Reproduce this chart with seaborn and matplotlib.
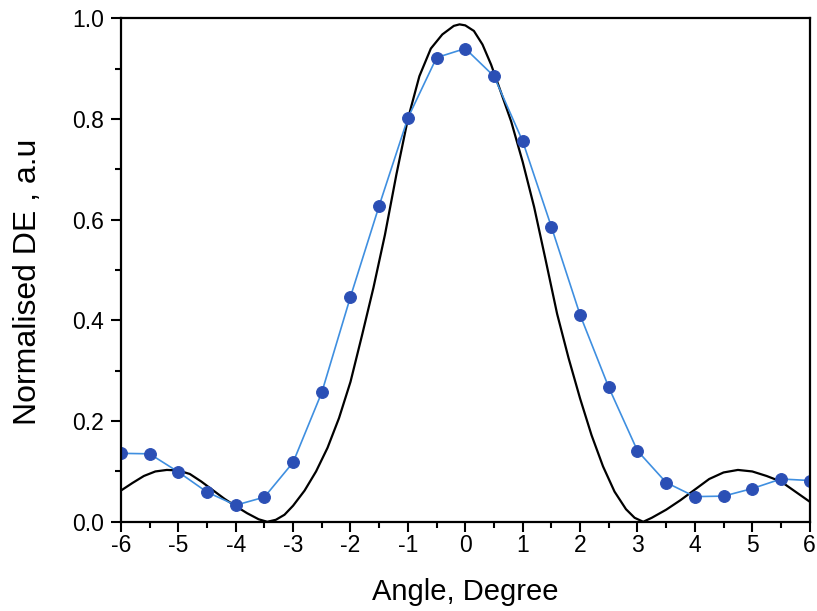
import numpy as np
import pandas as pd
import matplotlib
matplotlib.use("Agg")
import matplotlib.pyplot as plt
from matplotlib.ticker import MultipleLocator
import seaborn as sns

# Measured diffraction efficiency (blue points)
angle_meas = [-6.0, -5.5, -5.0, -4.5, -4.0, -3.5, -3.0, -2.5, -2.0, -1.5, -1.0, -0.5, 0.0,
              0.5, 1.0, 1.5, 2.0, 2.5, 3.0, 3.5, 4.0, 4.5, 5.0, 5.5, 6.0]
de_meas = [0.136, 0.135, 0.099, 0.059, 0.033, 0.049, 0.118, 0.257, 0.447, 0.628, 0.802, 0.922, 0.940,
           0.885, 0.756, 0.586, 0.411, 0.267, 0.141, 0.078, 0.050, 0.051, 0.066, 0.085, 0.082]

# Theoretical curve (black line)
angle_theo = [-6.0, -5.8, -5.6, -5.4, -5.2, -5.0, -4.8, -4.6, -4.4, -4.2, -4.0, -3.8, -3.6,
              -3.45, -3.3, -3.15, -3.0, -2.8, -2.6, -2.4, -2.2, -2.0, -1.8, -1.6, -1.4, -1.2,
              -1.0, -0.8, -0.6, -0.4, -0.2, -0.1, 0.0, 0.15, 0.3, 0.45, 0.6, 0.8, 1.0, 1.2,
              1.4, 1.6, 1.8, 2.0, 2.2, 2.4, 2.6, 2.8, 2.95, 3.1, 3.25, 3.5, 3.75, 4.0, 4.25,
              4.5, 4.75, 5.0, 5.25, 5.5, 5.75, 6.0]
de_theo = [0.062, 0.077, 0.091, 0.100, 0.103, 0.102, 0.095, 0.080, 0.063, 0.046, 0.031, 0.017,
           0.005, 0.0, 0.004, 0.014, 0.032, 0.062, 0.100, 0.147, 0.206, 0.278, 0.370, 0.465,
           0.570, 0.690, 0.800, 0.885, 0.940, 0.968, 0.985, 0.988, 0.986, 0.975, 0.948,
           0.908, 0.860, 0.795, 0.715, 0.625, 0.520, 0.413, 0.325, 0.245, 0.172, 0.110,
           0.060, 0.025, 0.008, 0.0, 0.008, 0.024, 0.043, 0.064, 0.085, 0.098, 0.103, 0.100,
           0.091, 0.080, 0.060, 0.040]

df_meas = pd.DataFrame({"angle": angle_meas, "de": de_meas})
df_theo = pd.DataFrame({"angle": angle_theo, "de": de_theo})

sns.set_theme(style="ticks")
plt.rcParams["font.family"] = ["Liberation Sans", "DejaVu Sans"]
plt.rcParams["axes.unicode_minus"] = False
plt.rcParams["lines.solid_joinstyle"] = "round"
plt.rcParams["text.color"] = "black"
plt.rcParams["axes.labelcolor"] = "black"

fig = plt.figure(figsize=(8.17, 6.11), dpi=100)
ax = fig.add_axes([0.148, 0.146, 0.843, 0.824])

sns.lineplot(data=df_theo, x="angle", y="de", ax=ax, color="black", linewidth=1.6,
             sort=False, estimator=None)
sns.lineplot(data=df_meas, x="angle", y="de", ax=ax, color="#3f8fe0", linewidth=1.2,
             marker="o", markersize=8.5, markerfacecolor="#2b4fb5", markeredgecolor="#2b4fb5",
             estimator=None)

ax.set_xlim(-6, 6)
ax.set_ylim(0, 1.0)
ax.xaxis.set_major_locator(MultipleLocator(1))
ax.xaxis.set_minor_locator(MultipleLocator(0.5))
ax.yaxis.set_major_locator(MultipleLocator(0.2))
ax.yaxis.set_minor_locator(MultipleLocator(0.1))
ax.set_yticks(np.arange(0, 1.01, 0.2))
ax.set_yticklabels(["0.0", "0.2", "0.4", "0.6", "0.8", "1.0"])

for side in ["top", "right", "left", "bottom"]:
    ax.spines[side].set_visible(True)
    ax.spines[side].set_linewidth(1.6)
    ax.spines[side].set_color("black")

ax.tick_params(axis="both", which="major", direction="out", length=7, width=1.5,
               labelsize=16.5, colors="black")
ax.tick_params(axis="x", which="major", pad=2)
ax.tick_params(axis="y", which="major", pad=5)
ax.tick_params(axis="both", which="minor", direction="out", length=4.5, width=1.5,
               colors="black")
ax.tick_params(top=False, right=False, which="both")

ax.set_xlabel("Angle, Degree", fontsize=21, color="black")
ax.set_ylabel("Normalised DE , a.u", fontsize=23, color="black")
ax.xaxis.set_label_coords(0.5, -0.112)
ax.yaxis.set_label_coords(-0.113, 0.476)

fig.savefig("out.png", dpi=100)
